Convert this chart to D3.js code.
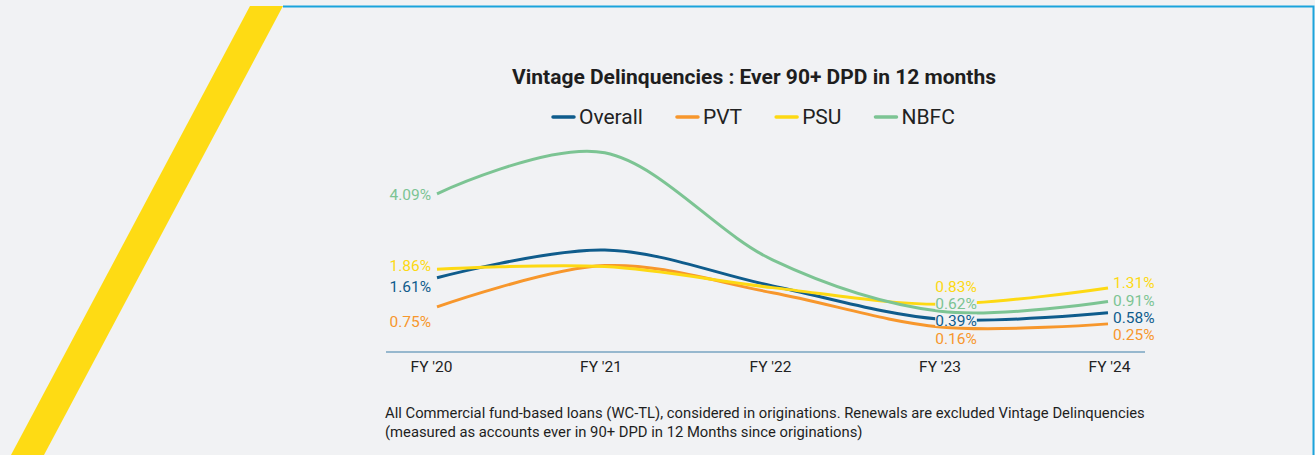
<!DOCTYPE html>
<html>
<head>
<meta charset="utf-8">
<script src="https://d3js.org/d3.v7.min.js"></script>
<style>
  body { margin: 0; background: #f1f2f4; }
  svg { display: block; font-family: Roboto, "Noto Sans", sans-serif; }
</style>
</head>
<body>
<svg id="chart" width="1315" height="455"></svg>
<script>
// data
const years = ["FY '20", "FY '21", "FY '22", "FY '23", "FY '24"];
const seriesNames = ["Overall", "PVT", "PSU", "NBFC"];
const overall = [1.61, 2.43, 1.37, 0.39, 0.58];
const pvt = [0.75, 1.97, 1.17, 0.16, 0.25];
const psu = [1.86, 1.94, 1.32, 0.83, 1.31];
const nbfc = [4.09, 5.30, 2.14, 0.62, 0.91];
const labelledIdx = [0, 3, 4];   // points that carry a value label
const title = "Vintage Delinquencies : Ever 90+ DPD in 12 months";
const note = [
  "All Commercial fund-based loans (WC-TL), considered in originations. Renewals are excluded Vintage Delinquencies",
  "(measured as accounts ever in 90+ DPD in 12 Months since originations)"
];

const colors = { Overall: "#0f5c8c", PVT: "#f7972c", PSU: "#fdd913", NBFC: "#7cc493" };
const values = { Overall: overall, PVT: pvt, PSU: psu, NBFC: nbfc };

// label nudges (px, from the point) so the labels don't collide
const labelDy = {
  Overall: [9, 0, 0, 1, 4.5],
  PVT: [15, 0, 0, 12, 11],
  PSU: [-4, 0, 0, -18, -5],
  NBFC: [1, 0, 0, -8, -1]
};

const svg = d3.select("#chart");

// decoration: yellow slash + blue frame
svg.append("polygon")
  .attr("points", "250,6 283,6 44,455 11,455")
  .attr("fill", "#fedb14");
svg.append("path")
  .attr("d", "M283,6.5 H1313.5 V455")
  .attr("fill", "none")
  .attr("stroke", "#1ba3dc")
  .attr("stroke-width", 2);

// scales
let x = d3.scalePoint().domain(years).range([437, 1108]);
let xAxisScale = d3.scalePoint().domain(years).range([431, 1109]);
let y = d3.scaleLinear().domain([-0.58, 5.5]).range([352, 146]);

// title
svg.append("text")
  .attr("x", 754).attr("y", 84)
  .attr("text-anchor", "middle")
  .attr("font-size", 21).attr("font-weight", 700)
  .attr("fill", "#1e1e1e")
  .text(title);

// legend
let legend = svg.append("g").attr("transform", "translate(0,117)");
let lx = 553;
seriesNames.forEach(function(name) {
  let g = legend.append("g").attr("transform", `translate(${lx},0)`);
  g.append("line").attr("x1", 0).attr("x2", 21)
    .attr("stroke", colors[name]).attr("stroke-width", 3.5).attr("stroke-linecap", "round");
  let t = g.append("text").attr("x", 26).attr("dy", "0.35em")
    .attr("font-size", 21).attr("fill", "#222").text(name);
  lx += 26 + t.node().getComputedTextLength() + 34;
});

// x axis
svg.append("line")
  .attr("x1", 386).attr("x2", 1145)
  .attr("y1", y(-0.58)).attr("y2", y(-0.58))
  .attr("stroke", "#3f7ea8").attr("stroke-width", 1.2);
let axis = svg.append("g")
  .attr("transform", `translate(0,${y(-0.58)})`)
  .call(d3.axisBottom(xAxisScale).tickSize(0).tickPadding(9));
axis.select(".domain").remove();
axis.selectAll("text")
  .attr("font-size", 15.5).attr("fill", "#222")
  .attr("font-family", "Roboto, sans-serif");

// lines
let line = d3.line()
  .x((d, i) => x(years[i]))
  .y(d => y(d))
  .curve(d3.curveCardinal.tension(0));

seriesNames.forEach(function(name) {
  svg.append("path")
    .datum(values[name])
    .attr("d", line)
    .attr("fill", "none")
    .attr("stroke", colors[name])
    .attr("stroke-width", 3);
});

// value labels
let labels = svg.append("g");
seriesNames.forEach(function(name) {
  labelledIdx.forEach(function(i) {
    let v = values[name][i];
    let px = x(years[i]);
    let anchor = "start";
    if (i == 0) { px -= 6; anchor = "end"; }
    else if (i == years.length - 1) { px += 5; }
    else { px -= 5; }
    let py = y(v) + labelDy[name][i];
    let g = labels.append("g");
    let t = g.append("text")
      .attr("x", px).attr("y", py).attr("dy", "0.35em")
      .attr("text-anchor", anchor)
      .attr("font-size", 15.5)
      .attr("fill", colors[name])
      .text(v.toFixed(2) + "%");
    let bb = t.node().getBBox();
    g.insert("rect", "text")
      .attr("x", bb.x).attr("width", bb.width)
      .attr("y", py - 5.5).attr("height", 11.5)
      .attr("fill", "#f1f2f4");
  });
});

// footnote
svg.append("g").selectAll("text")
  .data(note)
  .join("text")
  .attr("x", 385)
  .attr("y", (d, i) => 418 + i * 19)
  .attr("font-size", 14.8)
  .attr("fill", "#1e1e1e")
  .text(d => d);
</script>
</body>
</html>
